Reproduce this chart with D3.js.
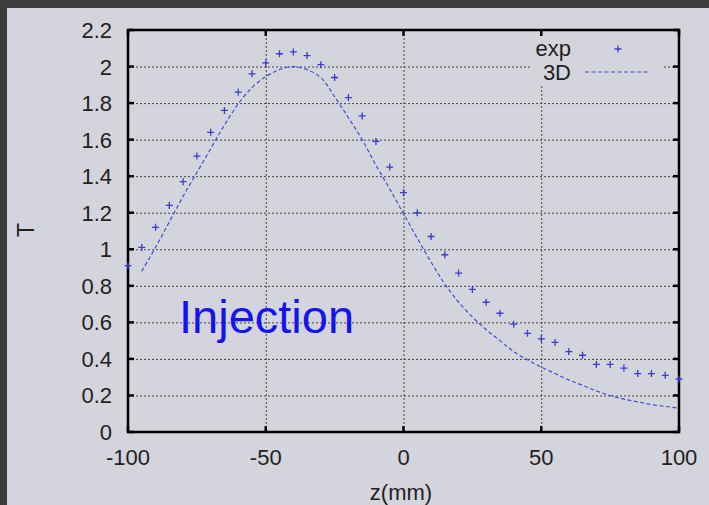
<!DOCTYPE html>
<html>
<head>
<meta charset="utf-8">
<script src="https://cdn.jsdelivr.net/npm/d3@7"></script>
<style>
  body { margin: 0; background: #3c3c3c; }
  text { font-family: "Liberation Sans", Arial, sans-serif; fill: #222; }
</style>
</head>
<body>
<div id="vis"></div>
<script>
// measured data (z in mm, transmission T)
const zExp = [-100, -95, -90, -85, -80, -75, -70, -65, -60, -55, -50, -45, -40, -35, -30, -25, -20, -15, -10, -5,
  0, 5, 10, 15, 20, 25, 30, 35, 40, 45, 50, 55, 60, 65, 70, 75, 80, 85, 90, 95, 100]
const tExp = [0.91, 1.01, 1.12, 1.24, 1.37, 1.51, 1.64, 1.76, 1.86, 1.96, 2.02, 2.07, 2.08, 2.06, 2.01, 1.94, 1.83, 1.73, 1.59, 1.45,
  1.31, 1.20, 1.07, 0.97, 0.87, 0.78, 0.71, 0.65, 0.59, 0.54, 0.51, 0.49, 0.44, 0.42, 0.37, 0.37, 0.35, 0.32, 0.32, 0.31, 0.29]

// 3D simulation
const z3d = [-95, -90, -85, -80, -75, -70, -65, -60, -55, -50, -45, -40, -35, -30, -25, -20, -15, -10, -5,
  0, 5, 10, 15, 20, 25, 30, 35, 40, 45, 50, 55, 60, 65, 70, 75, 80, 85, 90, 95, 100]
const t3d = [0.88, 1.01, 1.15, 1.29, 1.42, 1.55, 1.68, 1.795, 1.885, 1.945, 1.983, 2.0, 1.983, 1.94, 1.835, 1.72, 1.60, 1.46, 1.33,
  1.195, 1.06, 0.93, 0.81, 0.71, 0.63, 0.56, 0.50, 0.44, 0.395, 0.355, 0.32, 0.285, 0.255, 0.225, 0.20, 0.18, 0.165, 0.15, 0.14, 0.13]

const xTicks = [-100, -50, 0, 50, 100]
const yTicks = [0, 0.2, 0.4, 0.6, 0.8, 1, 1.2, 1.4, 1.6, 1.8, 2, 2.2]
const seriesNames = ['exp', '3D']

const W = 709, H = 505
const plot = { left: 128, right: 679, top: 30, bottom: 432 }
const bg = '#d4d4dc'
const blue = '#3b3bd0'

const svg = d3.select('#vis').append('svg').attr('width', W).attr('height', H)

// slide frame
svg.append('rect').attr('width', W).attr('height', H).attr('fill', '#3c3c3c')
svg.append('rect').attr('x', 7).attr('y', 8).attr('width', W - 7).attr('height', H - 8).attr('fill', bg)

const x = d3.scaleLinear().domain([-100, 100]).range([plot.left, plot.right])
const y = d3.scaleLinear().domain([0, 2.2]).range([plot.bottom, plot.top])

const g = svg.append('g')

// grid
g.append('g')
  .attr('transform', 'translate(0,' + plot.bottom + ')')
  .call(d3.axisBottom(x).tickValues(xTicks.slice(1, -1)).tickSize(-(plot.bottom - plot.top)).tickFormat(''))
  .call((s) => s.select('.domain').remove())
  .selectAll('line')
  .attr('stroke', '#444')
  .attr('stroke-dasharray', '2,2')
g.append('g')
  .attr('transform', 'translate(' + plot.left + ',0)')
  .call(d3.axisLeft(y).tickValues(yTicks.slice(1, -1)).tickSize(-(plot.right - plot.left)).tickFormat(''))
  .call((s) => s.select('.domain').remove())
  .selectAll('line')
  .attr('stroke', '#444')
  .attr('stroke-dasharray', '2,2')

// legend background hides grid
g.append('rect').attr('x', 530).attr('y', plot.top).attr('width', 133).attr('height', 55).attr('fill', bg)

// inward ticks on all four sides
const tickLen = 6
function tickSet(data, x1, x2, y1, y2) {
  g.append('g')
    .selectAll('line')
    .data(data)
    .enter()
    .append('line')
    .attr('x1', x1)
    .attr('x2', x2)
    .attr('y1', y1)
    .attr('y2', y2)
    .attr('stroke', '#000')
    .attr('stroke-width', 2.5)
}
tickSet(yTicks, plot.left, plot.left + tickLen, (d) => y(d), (d) => y(d))
tickSet(yTicks, plot.right, plot.right - tickLen, (d) => y(d), (d) => y(d))
tickSet(xTicks, (d) => x(d), (d) => x(d), plot.bottom, plot.bottom - tickLen)
tickSet(xTicks, (d) => x(d), (d) => x(d), plot.top, plot.top + tickLen)

// frame
g.append('rect')
  .attr('x', plot.left)
  .attr('y', plot.top)
  .attr('width', plot.right - plot.left)
  .attr('height', plot.bottom - plot.top)
  .attr('fill', 'none')
  .attr('stroke', '#000')
  .attr('stroke-width', 2.5)

// tick labels
g.append('g')
  .selectAll('text')
  .data(yTicks)
  .enter()
  .append('text')
  .attr('x', plot.left - 16)
  .attr('y', (d) => y(d) + 8)
  .attr('text-anchor', 'end')
  .style('font-size', '22px')
  .text((d) => d3.format('~g')(d))
g.append('g')
  .selectAll('text')
  .data(xTicks)
  .enter()
  .append('text')
  .attr('x', (d) => x(d))
  .attr('y', plot.bottom + 33)
  .attr('text-anchor', 'middle')
  .style('font-size', '22px')
  .text((d) => d)

// axis titles
svg.append('text')
  .attr('transform', 'translate(34,230)rotate(-90)')
  .attr('text-anchor', 'middle')
  .style('font-size', '23px')
  .text('T')
svg.append('text')
  .attr('x', 401)
  .attr('y', 500)
  .attr('text-anchor', 'middle')
  .style('font-size', '22px')
  .text('z(mm)')

// 3D curve
const line = d3
  .line()
  .x((d, i) => x(z3d[i]))
  .y((d) => y(d))
  .curve(d3.curveCatmullRom)
g.append('path')
  .datum(t3d)
  .attr('d', line)
  .attr('fill', 'none')
  .attr('stroke', '#4a4ad2')
  .attr('stroke-width', 1.2)
  .attr('stroke-dasharray', '4,2.5')

// exp points
const plus = 'M-3.5,0H3.5M0,-3.5V3.5'
g.append('g')
  .selectAll('path')
  .data(tExp)
  .enter()
  .append('path')
  .attr('transform', (d, i) => 'translate(' + x(zExp[i]) + ',' + y(d) + ')')
  .attr('d', plus)
  .attr('stroke', blue)
  .attr('stroke-width', 1.3)

// legend
const leg = g.append('g')
leg.append('text').attr('x', 571).attr('y', 56).attr('text-anchor', 'end').style('font-size', '22px').text(seriesNames[0])
leg.append('path').attr('transform', 'translate(618,49)').attr('d', plus).attr('stroke', blue).attr('stroke-width', 1.3)
leg.append('text').attr('x', 571).attr('y', 80).attr('text-anchor', 'end').style('font-size', '22px').text(seriesNames[1])
leg.append('line')
  .attr('x1', 585)
  .attr('x2', 650)
  .attr('y1', 72)
  .attr('y2', 72)
  .attr('stroke', '#4a4ad2')
  .attr('stroke-width', 1.2)
  .attr('stroke-dasharray', '4,2.5')

// annotation
svg.append('text')
  .attr('x', 179)
  .attr('y', 333)
  .style('font-size', '47px')
  .style('fill', '#1414f0')
  .text('Injection')
</script>
</body>
</html>
